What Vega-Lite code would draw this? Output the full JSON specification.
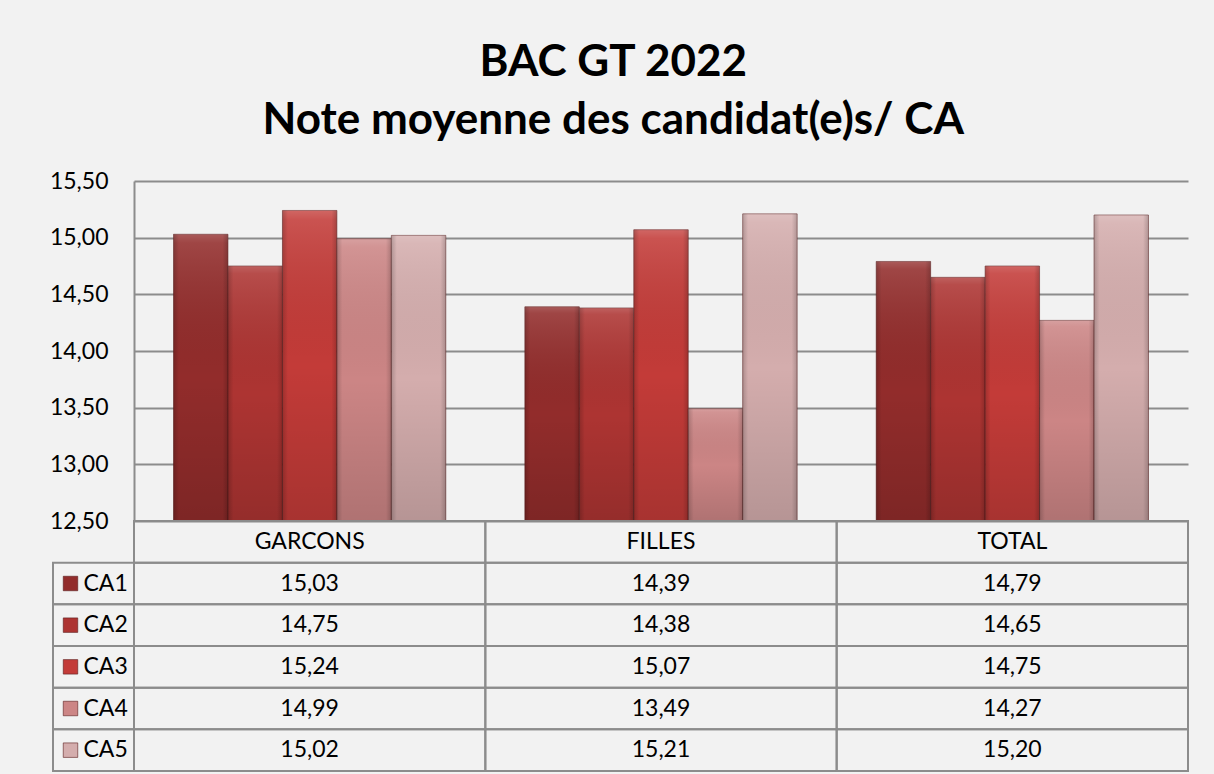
{
  "$schema": "https://vega.github.io/schema/vega-lite/v6.json",
  "background": "#f2f2f2",
  "padding": {"left": 49, "top": 41, "right": 26, "bottom": 3},
  "title": {
    "text": ["BAC GT 2022", "Note moyenne des candidat(e)s/ CA"],
    "font": "Lato",
    "fontSize": 44,
    "fontWeight": "bold",
    "lineHeight": 58,
    "color": "#000000",
    "anchor": "middle",
    "dx": -6,
    "offset": 27
  },
  "data": {
    "values": [
      {"category": "GARCONS", "series": "CA1", "value": 15.03},
      {"category": "GARCONS", "series": "CA2", "value": 14.75},
      {"category": "GARCONS", "series": "CA3", "value": 15.24},
      {"category": "GARCONS", "series": "CA4", "value": 14.99},
      {"category": "GARCONS", "series": "CA5", "value": 15.02},
      {"category": "FILLES", "series": "CA1", "value": 14.39},
      {"category": "FILLES", "series": "CA2", "value": 14.38},
      {"category": "FILLES", "series": "CA3", "value": 15.07},
      {"category": "FILLES", "series": "CA4", "value": 13.49},
      {"category": "FILLES", "series": "CA5", "value": 15.21},
      {"category": "TOTAL", "series": "CA1", "value": 14.79},
      {"category": "TOTAL", "series": "CA2", "value": 14.65},
      {"category": "TOTAL", "series": "CA3", "value": 14.75},
      {"category": "TOTAL", "series": "CA4", "value": 14.27},
      {"category": "TOTAL", "series": "CA5", "value": 15.20}
    ]
  },
  "columns": 2,
  "spacing": 0,
  "bounds": "flush",
  "resolve": {"scale": {"x": "independent", "y": "independent", "color": "independent", "xOffset": "independent"}},
  "concat": [
    {
      "width": 81,
      "height": 340,
      "mark": {"type": "text"},
      "encoding": {"text": {"value": ""}}
    },
    {
      "width": 1054,
      "height": 340,
      "encoding": {
        "x": {"field": "category", "type": "nominal", "sort": ["GARCONS", "FILLES", "TOTAL"], "scale": {"type": "band", "paddingInner": 0.225, "paddingOuter": 0.1125}, "axis": null},
        "xOffset": {"field": "series", "type": "nominal", "sort": ["CA1", "CA2", "CA3", "CA4", "CA5"], "scale": {"paddingInner": 0, "paddingOuter": 0}},
        "y": {
          "field": "value",
          "type": "quantitative",
          "scale": {"domain": [12.5, 15.5], "zero": false, "nice": false},
          "axis": {
            "values": [12.5, 13, 13.5, 14, 14.5, 15, 15.5],
            "format": ".2f",
            "ticks": false,
            "labelPadding": 26,
            "labelFont": "Lato",
            "labelFontSize": 23,
            "labelColor": "#000000",
            "domain": true,
            "domainColor": "#8c8c8c",
            "domainWidth": 2,
            "grid": true,
            "gridColor": "#8c8c8c",
            "gridWidth": 2,
            "title": null
          }
        },
        "y2": {"datum": 12.5}
      },
      "layer": [
        {
          "mark": {"type": "bar", "stroke": "#5a1c1c", "strokeOpacity": 0.55, "strokeWidth": 1},
          "encoding": {
            "color": {"field": "series", "type": "nominal", "scale": {"domain": ["CA1", "CA2", "CA3", "CA4", "CA5"], "range": ["#922c2b", "#ad3432", "#c33b38", "#cc8585", "#d4adad"]}, "legend": null}
          }
        },
        {
          "mark": {
            "type": "bar",
            "fill": {"gradient": "linear", "x1": 0, "y1": 0, "x2": 0, "y2": 1, "stops": [
              {"offset": 0, "color": "rgba(255,255,255,0.22)"},
              {"offset": 0.03, "color": "rgba(255,255,255,0.12)"},
              {"offset": 0.5, "color": "rgba(0,0,0,0)"},
              {"offset": 1, "color": "rgba(0,0,0,0.14)"}
            ]}
          }
        },
        {
          "mark": {
            "type": "bar",
            "fill": {"gradient": "linear", "x1": 0, "y1": 0, "x2": 1, "y2": 0, "stops": [
              {"offset": 0, "color": "rgba(0,0,0,0.18)"},
              {"offset": 0.1, "color": "rgba(0,0,0,0)"},
              {"offset": 0.9, "color": "rgba(0,0,0,0)"},
              {"offset": 1, "color": "rgba(0,0,0,0.18)"}
            ]}
          }
        }
      ]
    },
    {
      "width": 81,
      "height": 250,
      "transform": [{"filter": "datum.category == 'GARCONS'"}],
      "encoding": {
        "y": {"field": "series", "type": "nominal", "scale": {"type": "band", "domain": ["H", "CA1", "CA2", "CA3", "CA4", "CA5"], "paddingInner": 0, "paddingOuter": 0}, "axis": null}
      },
      "layer": [
        {"mark": {"type": "rect", "fill": "transparent", "stroke": "#8c8c8c", "strokeWidth": 2}},
        {
          "mark": {"type": "square", "size": 210, "filled": true, "opacity": 1, "xOffset": -23, "stroke": "#5a1c1c", "strokeWidth": 0.6},
          "encoding": {
            "color": {"field": "series", "type": "nominal", "scale": {"domain": ["CA1", "CA2", "CA3", "CA4", "CA5"], "range": ["#922c2b", "#ad3432", "#c33b38", "#cc8585", "#d4adad"]}, "legend": null}
          }
        },
        {
          "mark": {"type": "text", "align": "left", "dx": -10, "font": "Lato", "fontSize": 23, "color": "#000000"},
          "encoding": {"text": {"field": "series"}}
        }
      ]
    },
    {
      "width": 1054,
      "height": 250,
      "layer": [
        {
          "mark": {"type": "rect", "fill": "transparent", "stroke": "#8c8c8c", "strokeWidth": 2},
          "encoding": {
            "x": {"field": "category", "type": "nominal", "sort": ["GARCONS", "FILLES", "TOTAL"], "scale": {"type": "band", "domain": ["GARCONS", "FILLES", "TOTAL"], "paddingInner": 0, "paddingOuter": 0}, "axis": null},
            "y": {"field": "series", "type": "nominal", "scale": {"type": "band", "domain": ["H", "CA1", "CA2", "CA3", "CA4", "CA5"], "paddingInner": 0, "paddingOuter": 0}, "axis": null}
          }
        },
        {
          "mark": {"type": "text", "font": "Lato", "fontSize": 23, "color": "#000000"},
          "encoding": {
            "x": {"field": "category", "type": "nominal"},
            "y": {"field": "series", "type": "nominal"},
            "text": {"field": "value", "type": "quantitative", "format": ".2f"}
          }
        },
        {
          "transform": [{"filter": "datum.series == 'CA1'"}],
          "mark": {"type": "rect", "fill": "transparent", "stroke": "#8c8c8c", "strokeWidth": 2},
          "encoding": {
            "x": {"field": "category", "type": "nominal"},
            "y": {"datum": "H", "type": "nominal"}
          }
        },
        {
          "transform": [{"filter": "datum.series == 'CA1'"}],
          "mark": {"type": "text", "font": "Lato", "fontSize": 23, "color": "#000000"},
          "encoding": {
            "x": {"field": "category", "type": "nominal"},
            "y": {"datum": "H", "type": "nominal"},
            "text": {"field": "category"}
          }
        }
      ]
    }
  ],
  "config": {
    "locale": {"number": {"decimal": ",", "thousands": " ", "grouping": [3], "currency": ["", " €"]}},
    "view": {"stroke": null},
    "font": "Lato"
  }
}
